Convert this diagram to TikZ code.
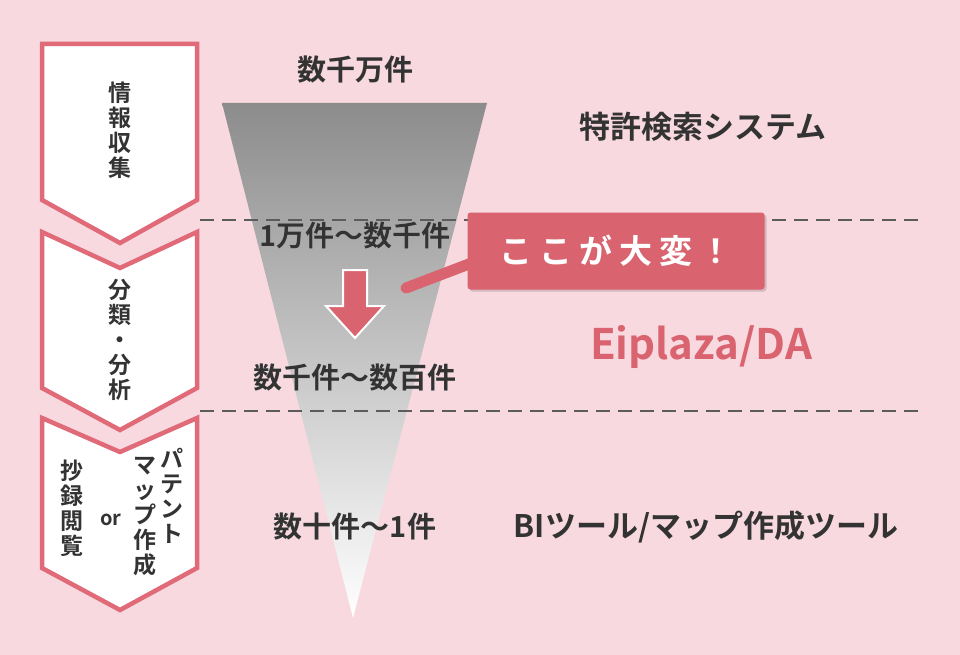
\documentclass[tikz,border=0pt]{standalone}
\usepackage{fontspec}
\setmainfont{Noto Sans CJK JP}[BoldFont={* Bold}]
\usepackage[outline]{contour}
\contourlength{2.5pt}
\definecolor{bgpink}{HTML}{F8D9DF}
\definecolor{rosered}{HTML}{D9636F}
\definecolor{chevline}{HTML}{E06A78}
\definecolor{darktext}{HTML}{333333}
\begin{document}
\begin{tikzpicture}
    [
    x=1pt, y=-1pt,
    every node/.style={font=\bfseries, text=darktext},
    chevron/.style={draw=chevline, line width=4.5pt, fill=white, line join=miter},
    stage/.style={font=\bfseries\fontsize{23}{25}\selectfont, align=center},
    count/.style={font=\bfseries\fontsize{29}{33}\selectfont},
    tool/.style={font=\bfseries\fontsize{31}{36}\selectfont},
    divider/.style={dashed, dash pattern=on 14pt off 8pt, line width=1.5pt, draw=darktext!80}
    ]

% Background
    \fill[bgpink] (0,0) rectangle (960,655);
    \useasboundingbox (0,0) rectangle (960,655);

% Funnel
    \shade[top color=black!45, bottom color=white] (222,103) -- (487,103) -- (353,618) -- cycle;

% Dividers
    \coordinate (div1a) at (200,220);
    \coordinate (div1b) at (925,220);
    \coordinate (div2a) at (200,411);
    \coordinate (div2b) at (925,411);
    \draw[divider] (div1a) -- (div1b);
    \draw[divider] (div2a) -- (div2b);

% Stage chevrons
    \draw[chevron] (42,44) -- (197,44) -- (197,200) -- (120,243) -- (42,200) -- cycle;
    \draw[chevron] (42,232) -- (120,268) -- (197,232) -- (197,388) -- (120,430) -- (42,388) -- cycle;
    \draw[chevron] (42,418) -- (120,452) -- (197,418) -- (197,568) -- (120,610) -- (42,568) -- cycle;
    \node[stage] (collect) at (120,130) {情\\報\\収\\集};
    \node[stage] (analyse) at (120,340) {分\\類\\・\\分\\析};
    \node[stage] (abstract) at (72,508) {抄\\録\\閲\\覧};
    \node[stage, font=\bfseries\fontsize{20}{22}\selectfont] (ormark) at (111,520) {or};
    \node[stage] (mapping) at (145,516) {マ\\ッ\\プ\\作\\成};
    \node[stage] (patent) at (172,496) {パ\\テ\\ン\\ト};

% Counts
    \node[count] (count1) at (355,70) {数千万件};
    \node[count] (count2) at (355,236) {\contour{white}{1万件～数千件}};
    \node[count] (count3) at (355,378) {\contour{white}{数千件～数百件}};
    \node[count] (count4) at (355,527) {\contour{white}{数十件～1件}};

% Down arrow
    \draw[fill=rosered, draw=white, line width=2pt, line join=miter]
        (343,270) -- (367,270) -- (367,306) -- (384,306) -- (355,338) -- (326,306) -- (343,306) -- cycle;

% Callout
    \coordinate (pointer) at (406,288);
    \node[fill=black, opacity=0.15, rounded corners=3pt, minimum width=297pt, minimum height=77pt] at (618,253) {};
    \draw[rosered, line width=11pt, line cap=round] (pointer) -- (490,256);
    \node[fill=rosered, rounded corners=3pt, minimum width=297pt, minimum height=77pt,
        text=white, font=\bfseries\fontsize{33}{38}\selectfont] (hard) at (616,251)
        {こ\hspace{7pt}こ\hspace{7pt}が\hspace{7pt}大\hspace{7pt}変\hspace{7pt}！};

% Tools
    \node[tool] (search) at (703,127) {特許検索システム};
    \node[tool, text=rosered, font=\bfseries\fontsize{42}{48}\selectfont] (eiplaza) at (701,347) {Eiplaza/DA};
    \node[tool] (bitool) at (706,527) {BIツール/マップ作成ツール};

\end{tikzpicture}
\end{document}
